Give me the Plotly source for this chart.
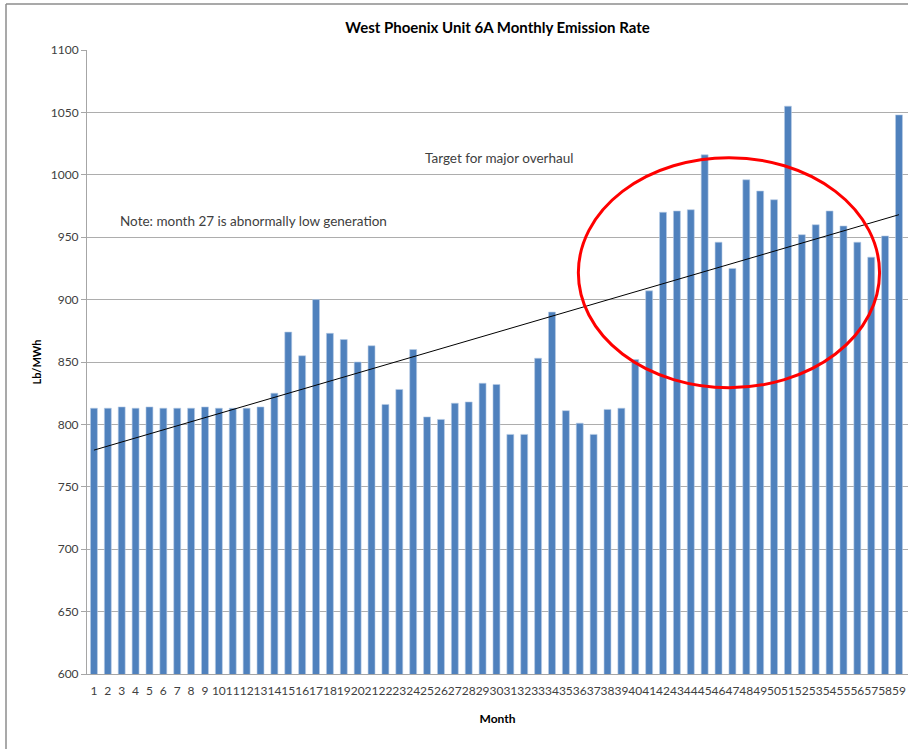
import numpy as np
import plotly.graph_objects as go

months = list(range(1, 60))
emission_rate = [
    813, 813, 814, 813, 814, 813, 813, 813, 814, 813,
    813, 813, 814, 825, 874, 855, 900, 873, 868, 850,
    863, 816, 828, 860, 806, 804, 817, 818, 833, 832,
    792, 792, 853, 890, 811, 801, 792, 812, 813, 852,
    907, 970, 971, 972, 1016, 946, 925, 996, 987, 980,
    1055, 952, 960, 971, 959, 946, 934, 951, 1048,
]
y_ticks = [600, 650, 700, 750, 800, 850, 900, 950, 1000, 1050, 1100]

title_text = "West Phoenix Unit 6A Monthly Emission Rate"
x_title = "Month"
y_title = "Lb/MWh"
note_target = "Target for major overhaul"
note_low = "Note: month 27 is abnormally low generation"

# Linear trendline (least squares fit, as in the spreadsheet trendline)
slope, intercept = np.polyfit(months, emission_rate, 1)
trend_x = [months[0], months[-1]]
trend_y = [slope * trend_x[0] + intercept, slope * trend_x[1] + intercept]

FONT = "Lato"

fig = go.Figure()
fig.add_trace(go.Bar(
    x=months, y=emission_rate,
    marker=dict(color="#4F81BD", line=dict(color="#B9CDE5", width=0.6)),
    showlegend=False,
))
fig.add_trace(go.Scatter(
    x=trend_x, y=trend_y, mode="lines",
    line=dict(color="#000000", width=1),
    showlegend=False,
))

fig.update_layout(
    width=908, height=749,
    margin=dict(l=87, r=0, t=50, b=75),
    paper_bgcolor="white", plot_bgcolor="white",
    bargap=0.5,
    font=dict(family=FONT, size=12, color="#404040"),
    title=dict(text="<b>" + title_text + "</b>", x=0.5, xanchor="center",
               xref="paper", y=1 - 28 / 749, yanchor="middle",
               font=dict(family=FONT, size=15, color="#000000")),
)

fig.update_xaxes(
    range=[0.5, 59.65],
    tickmode="array", tickvals=months, ticktext=[str(m) for m in months],
    tickangle=0,
    tickfont=dict(family=FONT, size=12, color="#404040"),
    ticklabelstandoff=6,
    ticklabeloverflow="allow",
    showgrid=False, zeroline=False,
    showline=True, linecolor="#A6A6A6", linewidth=1,
    ticks="",
    title=dict(text="<b>" + x_title + "</b>", standoff=17,
               font=dict(family=FONT, size=12, color="#000000")),
    automargin=False,
)
fig.update_yaxes(
    range=[600, 1100],
    tickmode="array", tickvals=y_ticks,
    tickfont=dict(family=FONT, size=12, color="#404040"),
    showgrid=True, gridcolor="#ADADAD", gridwidth=1,
    zeroline=False,
    showline=True, linecolor="#A6A6A6", linewidth=1,
    ticks="outside", ticklen=5, tickcolor="#A6A6A6",
    title=dict(text="<b>" + y_title + "</b>", standoff=6,
               font=dict(family=FONT, size=11, color="#000000")),
    automargin=False,
)

# Red ellipse highlighting the recent high months
fig.add_shape(type="circle", xref="x", yref="y",
              x0=35.9, x1=57.6, y0=829.4, y1=1013.7,
              line=dict(color="#FF0000", width=3))

# Chart-area border (left and top edges visible)
fig.add_shape(type="line", xref="paper", yref="paper",
              x0=-81 / 821, x1=-81 / 821, y0=670 / 624, y1=-75 / 624,
              line=dict(color="#8C8C8C", width=1.5))
fig.add_shape(type="line", xref="paper", yref="paper",
              x0=-81 / 821, x1=1.0, y0=670 / 624, y1=670 / 624,
              line=dict(color="#8C8C8C", width=1.5))

fig.add_annotation(x=30.2, y=1013.5, xref="x", yref="y", text=note_target,
                   showarrow=False, font=dict(family=FONT, size=13.5, color="#404040"))
fig.add_annotation(x=12.5, y=963, xref="x", yref="y", text=note_low,
                   showarrow=False, font=dict(family=FONT, size=13.5, color="#404040"))

fig.write_html(
    "out.html",
    config={"displayModeBar": False},
    post_script="document.body.style.margin='0';document.body.style.overflow='hidden';",
)
